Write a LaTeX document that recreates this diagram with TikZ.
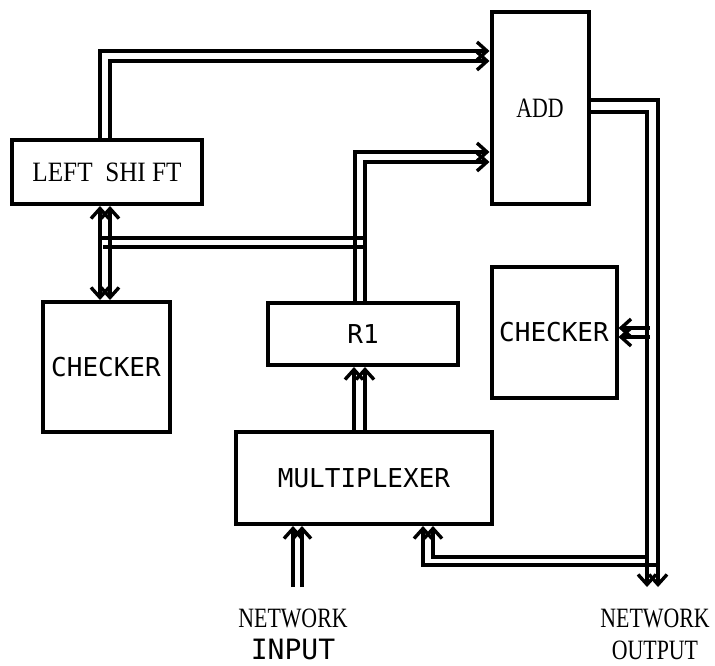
\documentclass[tikz,border=0pt]{standalone}
\usepackage{fontspec}
\setmainfont{Liberation Serif}
\setmonofont{DejaVu Sans Mono}
\newfontfamily\narrowserif[FakeStretch=0.78]{Liberation Serif}
\newfontfamily\wideserif[FakeStretch=0.9]{Liberation Serif}
\usetikzlibrary{arrows.meta}

\begin{document}
\begin{tikzpicture}[
  x=0.5pt, y=-0.5pt,
  block/.style={draw, line width=2pt, inner sep=0pt},
  wire/.style={line width=1.7pt},
  tip/.style={-{Straight Barb[length=5pt,width=9pt]}},
  tips/.style={{Straight Barb[length=5pt,width=9pt]}-{Straight Barb[length=5pt,width=9pt]}},
  serif/.style={font=\narrowserif\fontsize{14}{16}\selectfont},
  mono/.style={font=\ttfamily\fontsize{13}{16}\selectfont}
]
  \useasboundingbox (0,0) rectangle (715,665);

  \node[block, font=\wideserif\fontsize{14}{16}\selectfont, minimum width=95pt, minimum height=32pt] (shift) at (107,172) {LEFT\ \ SHI FT};
  \node[block, serif, minimum width=48.5pt, minimum height=96pt] (add) at (540,108) {ADD};
  \node[block, mono, minimum width=63.5pt, minimum height=65pt] (chkL) at (106,367) {CHECKER};
  \node[block, mono, minimum width=95pt, minimum height=31pt] (r1) at (363,334) {R1};
  \node[block, mono, minimum width=128pt, minimum height=46pt] (mux) at (364,478) {MULTIPLEXER};
  \node[block, mono, minimum width=62.5pt, minimum height=65.5pt] (chkR) at (554,332) {CHECKER};
  \node[serif, align=center] (netin) at (293,634) {NETWORK\\\ttfamily INPUT};
  \node[serif, align=center] (netout) at (655,634) {NETWORK\\OUTPUT};

  % free ends and bus taps
  \coordinate (inA) at (293,587);
  \coordinate (inB) at (302,587);
  \coordinate (outA) at (647,587);
  \coordinate (outB) at (658,587);
  \coordinate (tapA) at (100,238);
  \coordinate (tapB) at (103,247);

  % left shift -> add
  \draw[wire, tip] (100,0 |- shift.north) |- (add.west |- 0,51);
  \draw[wire, tip] (110,0 |- shift.north) |- (add.west |- 0,61);
  % r1 -> add
  \draw[wire, tip] (355,0 |- r1.north) |- (add.west |- 0,152);
  \draw[wire, tip] (365,0 |- r1.north) |- (add.west |- 0,162);
  % bus back to left shift and checker
  \draw[wire] (tapA) -- (tapA -| 365,0);
  \draw[wire] (tapB) -- (tapB -| 365,0);
  \draw[wire, tips] (100,0 |- shift.south) -- (100,0 |- chkL.north);
  \draw[wire, tips] (110,0 |- shift.south) -- (110,0 |- chkL.north);
  % multiplexer -> r1
  \draw[wire, tip] (354,0 |- mux.north) -- (354,0 |- r1.south);
  \draw[wire, tip] (365,0 |- mux.north) -- (365,0 |- r1.south);
  % network input
  \draw[wire, tip] (inA) -- (inA |- mux.south);
  \draw[wire, tip] (inB) -- (inB |- mux.south);
  % add -> network output
  \draw[wire, tip] (add.east |- 0,100) -| (outB);
  \draw[wire, tip] (add.east |- 0,112) -| (outA);
  % -> right checker
  \draw[wire, tip] (650,328) -- (chkR.east |- 0,328);
  \draw[wire, tip] (650,337) -- (chkR.east |- 0,337);
  % feedback -> multiplexer
  \draw[wire, tip] (647,557) -| (433,0 |- mux.south);
  \draw[wire, tip] (658,565) -| (423,0 |- mux.south);
\end{tikzpicture}
\end{document}
